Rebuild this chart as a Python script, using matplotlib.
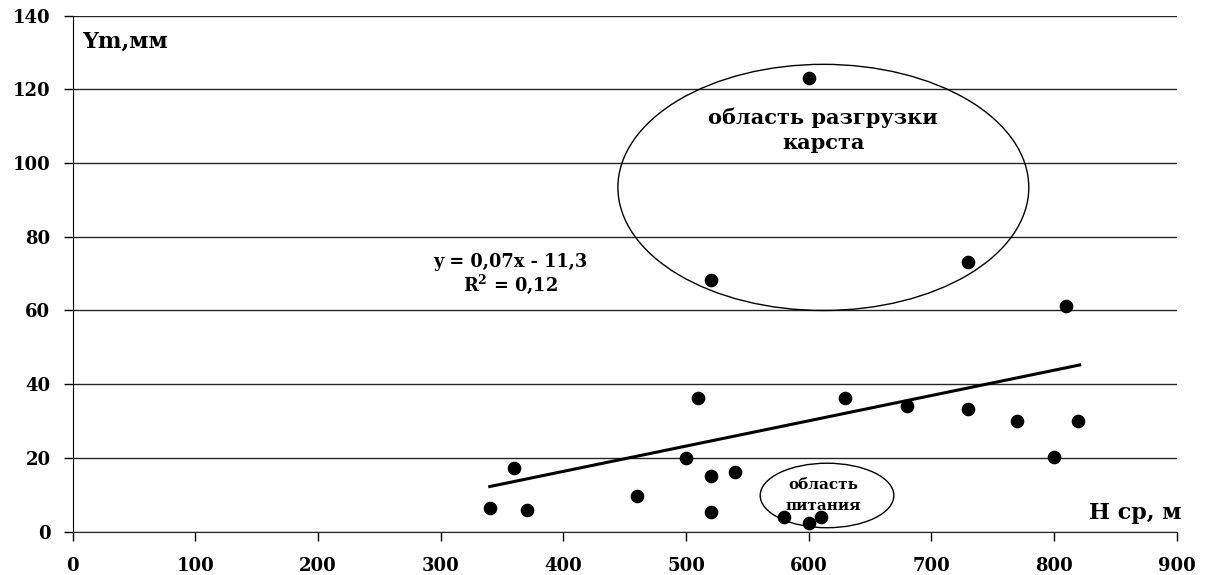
import matplotlib
matplotlib.use("Agg")
import matplotlib.pyplot as plt
import numpy as np
from matplotlib.patches import Ellipse

# средняя высота водосбора, м
h_sr = [340, 360, 370, 460, 500, 510, 520, 520, 540, 580, 600, 610, 630,
        680, 730, 770, 800, 820, 810, 730, 520, 600]
# модуль стока Ym, мм
ym = [6.3, 17.2, 5.9, 9.7, 20.1, 36.2, 15.2, 5.4, 16.2, 4.0, 2.4, 4.0, 36.2,
      34.2, 33.2, 30.1, 20.2, 30.1, 61.2, 73.2, 68.3, 123.0]

trend_slope = 0.0686
trend_icept = -11.1
trend_x = [340, 821]

x_ticks = [0, 100, 200, 300, 400, 500, 600, 700, 800, 900]
y_ticks = [0, 20, 40, 60, 80, 100, 120, 140]

plt.rcParams["font.family"] = ["DejaVu Serif"]
plt.rcParams["font.weight"] = "bold"
plt.rcParams["mathtext.fontset"] = "dejavuserif"

fig = plt.figure(figsize=(12.08, 5.75), dpi=100)
ax = fig.add_axes([0.0602, 0.0755, 0.9138, 0.8972])

for yv in y_ticks:
    ax.axhline(yv, color="#262626", lw=1.0, zorder=0)

tx = np.array(trend_x)
ax.plot(tx, trend_slope * tx + trend_icept, color="black", lw=2.2, zorder=2)
ax.plot(h_sr, ym, "o", color="black", ms=8.8, zorder=3)

# области на графике
ax.add_patch(Ellipse((612, 93.4), 335, 66.8, fill=False, ec="black", lw=1.0))
ax.add_patch(Ellipse((615, 9.8), 109, 17.5, fill=False, ec="black", lw=1.0))

ax.text(612, 112.2, "область разгрузки", ha="center", va="center",
        fontsize=15, fontweight="bold")
ax.text(612, 105.5, "карста", ha="center", va="center",
        fontsize=15, fontweight="bold")
ax.text(612, 12.6, "область", ha="center", va="center",
        fontsize=11, fontweight="bold")
ax.text(612, 7.0, "питания", ha="center", va="center",
        fontsize=11, fontweight="bold")
ax.text(357, 73.2, "y = 0,07x - 11,3", ha="center", va="center",
        fontsize=12.8, fontweight="bold")
ax.text(357, 67.2, r"R$^\mathbf{2}$ = 0,12", ha="center", va="center",
        fontsize=12.8, fontweight="bold")
ax.text(8, 132.9, "Ym,мм", ha="left", va="center", fontsize=16,
        fontweight="bold")
ax.text(904, 5, "H ср, м", ha="right", va="center", fontsize=16,
        fontweight="bold", clip_on=False)

ax.set_xlim(0, 900)
ax.set_ylim(0, 140)
ax.set_xticks(x_ticks)
ax.set_yticks(y_ticks)
ax.tick_params(axis="both", direction="out", length=6.5, width=1, labelsize=13)
ax.tick_params(axis="x", pad=12)
ax.tick_params(axis="y", pad=9.5)
for lab in ax.get_xticklabels() + ax.get_yticklabels():
    lab.set_fontweight("bold")

for side in ["top", "right"]:
    ax.spines[side].set_visible(False)
ax.spines["bottom"].set_color("#262626")
ax.spines["left"].set_color("black")

plt.savefig("out.png", dpi=100)
plt.close(fig)
